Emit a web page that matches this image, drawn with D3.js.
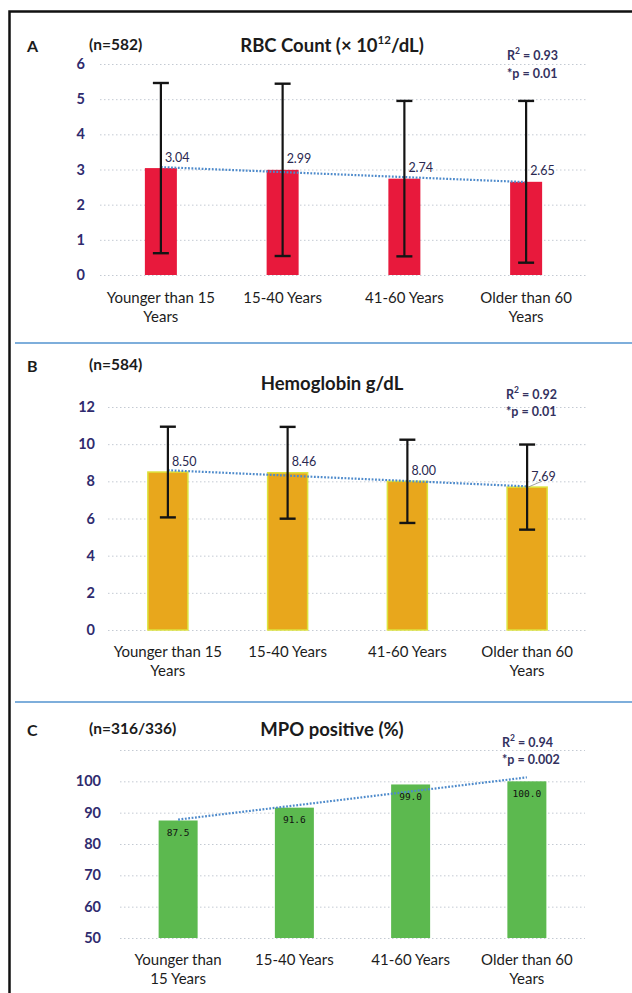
<!DOCTYPE html>
<html><head><meta charset="utf-8">
<script src="https://cdn.jsdelivr.net/npm/d3@7"></script>
<style>
html,body{margin:0;padding:0;background:#fff;}
svg{display:block;font-family:Lato,"Open Sans",sans-serif;}
</style></head><body>
<svg id="chart" width="632" height="993"></svg>
<script>
// Age groups shared by all three panels
const ageGroups = ["<15", "15-40", "41-60", ">60"];
const ageLabelsAB = [["Younger than 15", "Years"], ["15-40 Years"], ["41-60 Years"], ["Older than 60", "Years"]];
const ageLabelsC = [["Younger than", "15 Years"], ["15-40 Years"], ["41-60 Years"], ["Older than 60", "Years"]];

// Panel A: red blood cell count, mean ± SD
const rbcMean = [3.04, 2.99, 2.74, 2.65];
const rbcSD = [2.42, 2.45, 2.21, 2.30];
const rbcTicks = [0, 1, 2, 3, 4, 5, 6];

// Panel B: hemoglobin, mean ± SD
const hbMean = [8.50, 8.46, 8.00, 7.69];
const hbSD = [2.44, 2.47, 2.24, 2.29];
const hbTicks = [0, 2, 4, 6, 8, 10, 12];

// Panel C: MPO positive share
const mpoPct = [87.5, 91.6, 99.0, 100.0];
const mpoTicks = [50, 60, 70, 80, 90, 100];
const mpoGrid = [50, 60, 70, 80, 90, 100, 110];

const panelLetters = ["A", "B", "C"];
const sampleSizes = ["(n=582)", "(n=584)", "(n=316/336)"];
const rSquared = ["0.93", "0.92", "0.94"];
const pValues = ["*p = 0.01", "*p = 0.01", "*p = 0.002"];

const svg = d3.select("#chart");
const FONT = "Lato, 'Open Sans', sans-serif";

const panels = [
  {
    values: rbcMean, sd: rbcSD, ticks: rbcTicks, grid: rbcTicks, domain: [0, 6],
    xRange: [100, 587], yRange: [275, 64], barW: 32,
    fill: "#e8193c", stroke: null, cats: ageLabelsAB, catY: 297,
    headY: 45, titleY: 45, r2x: 507, r2y: 55, py: 73, tickPad: 15,
    labelMode: "above", fmt: d3.format(".2f")
  },
  {
    values: hbMean, sd: hbSD, ticks: hbTicks, grid: hbTicks, domain: [0, 12],
    xRange: [108, 587], yRange: [630, 407], barW: 40,
    fill: "#e8a71c", stroke: "#dde23c", cats: ageLabelsAB, catY: 651,
    headY: 365, titleY: 383, r2x: 506, r2y: 394, py: 411, tickPad: 13,
    labelMode: "above", fmt: d3.format(".2f")
  },
  {
    values: mpoPct, sd: null, ticks: mpoTicks, grid: mpoGrid, domain: [50, 110],
    xRange: [120, 585], yRange: [938, 750], barW: 39,
    fill: "#5cb94f", stroke: null, cats: ageLabelsC, catY: 959,
    headY: 729, titleY: 729, r2x: 502, r2y: 742, py: 759, tickPad: 19,
    labelMode: "inside", fmt: d3.format(".1f")
  }
];

function drawTitle(g, i, p) {
  const t = g.append("text")
    .attr("x", 332).attr("y", p.titleY)
    .attr("text-anchor", "middle").attr("dominant-baseline", "central")
    .attr("font-size", 18.5).attr("font-weight", 700).attr("fill", "#1b1b1b");
  if (i === 0) {
    t.append("tspan").text("RBC Count (\u00d7 10");
    t.append("tspan").attr("font-size", 11.5).attr("dy", -6).text("12");
    t.append("tspan").attr("dy", 6).text("/dL)");
  } else if (i === 1) {
    t.text("Hemoglobin g/dL");
  } else {
    t.text("MPO positive (%)");
  }
}

panels.forEach((p, i) => {
  const g = svg.append("g");
  const x = d3.scaleBand().domain(ageGroups).range(p.xRange);
  const y = d3.scaleLinear().domain(p.domain).range(p.yRange);
  const cx = k => x(ageGroups[k]) + x.bandwidth() / 2;
  const width = p.xRange[1] - p.xRange[0];

  // dotted horizontal gridlines
  g.append("g")
    .attr("transform", `translate(${p.xRange[0]},0)`)
    .call(d3.axisLeft(y).tickValues(p.grid).tickSize(-width).tickFormat(""))
    .call(a => a.select(".domain").remove())
    .selectAll("line")
    .attr("stroke", "#c4cad3").attr("stroke-width", 1).attr("stroke-dasharray", "1.5,2.5");

  // value axis labels
  const ax = g.append("g")
    .attr("transform", `translate(${p.xRange[0]},0)`)
    .call(d3.axisLeft(y).tickValues(p.ticks).tickSize(0).tickPadding(p.tickPad).tickFormat(d3.format("d")));
  ax.select(".domain").remove();
  ax.attr("font-family", FONT).attr("font-size", 14.5).attr("font-weight", 700);
  ax.selectAll("text").attr("fill", "#2f2b6e");

  // bars
  g.selectAll("rect.bar").data(p.values).join("rect")
    .attr("class", "bar")
    .attr("x", (d, k) => cx(k) - p.barW / 2)
    .attr("y", d => y(d))
    .attr("width", p.barW)
    .attr("height", d => y(p.domain[0]) - y(d))
    .attr("fill", p.fill)
    .attr("stroke", p.stroke || "none")
    .attr("stroke-width", p.stroke ? 1.5 : 0);

  // linear trend across age groups (least squares on group index)
  const n = p.values.length;
  const mx = d3.mean(d3.range(n)), my = d3.mean(p.values);
  const slope = d3.sum(p.values, (v, k) => (k - mx) * (v - my)) / d3.sum(d3.range(n), k => (k - mx) ** 2);
  const fit = k => my + slope * (k - mx);
  g.append("line")
    .attr("x1", cx(0)).attr("y1", y(fit(0)))
    .attr("x2", cx(n - 1)).attr("y2", y(fit(n - 1)))
    .attr("stroke", "#4d8acb").attr("stroke-width", 2.2)
    .attr("stroke-dasharray", "1.8,1.6");

  // error bars (mean ± SD)
  if (p.sd) {
    const eb = g.selectAll("g.err").data(p.values).join("g").attr("class", "err");
    eb.append("line")
      .attr("x1", (d, k) => cx(k)).attr("x2", (d, k) => cx(k))
      .attr("y1", (d, k) => y(d - p.sd[k])).attr("y2", (d, k) => y(d + p.sd[k]))
      .attr("stroke", "#141414").attr("stroke-width", 2.2);
    [-1, 1].forEach(s => {
      eb.append("line")
        .attr("x1", (d, k) => cx(k) - 8).attr("x2", (d, k) => cx(k) + 8)
        .attr("y1", (d, k) => y(d + s * p.sd[k])).attr("y2", (d, k) => y(d + s * p.sd[k]))
        .attr("stroke", "#141414").attr("stroke-width", 2.4);
    });
  }

  // value labels
  if (p.labelMode === "above") {
    g.selectAll("text.val").data(p.values).join("text")
      .attr("class", "val")
      .attr("x", (d, k) => cx(k) + 4)
      .attr("y", d => y(d) - 11)
      .attr("dominant-baseline", "central")
      .attr("font-size", 12.5).attr("fill", "#2a2850")
      .text(d => p.fmt(d));
    if (i === 1) {
      // short leader from the last point to its label
      g.append("line")
        .attr("x1", cx(n - 1) + 1).attr("y1", y(p.values[n - 1]))
        .attr("x2", cx(n - 1) + 15).attr("y2", y(p.values[n - 1]) - 6)
        .attr("stroke", "#8a8a8a").attr("stroke-width", 0.8);
    }
  } else {
    g.selectAll("text.val").data(p.values).join("text")
      .attr("class", "val")
      .attr("x", (d, k) => cx(k))
      .attr("y", d => y(d) + 12)
      .attr("text-anchor", "middle").attr("dominant-baseline", "central")
      .attr("font-family", "'DejaVu Sans Mono', 'Liberation Mono', monospace")
      .attr("font-size", 9.5).attr("fill", "#111")
      .text(d => p.fmt(d));
  }

  // category labels
  p.cats.forEach((lines, k) => {
    const t = g.append("text")
      .attr("text-anchor", "middle")
      .attr("font-size", 15).attr("fill", "#1c1c1c");
    lines.forEach((ln, j) => {
      t.append("tspan").attr("x", cx(k)).attr("y", p.catY + j * 19)
        .attr("dominant-baseline", "central").text(ln);
    });
  });

  // panel letter, sample size and title
  g.append("text").attr("x", 27).attr("y", p.headY)
    .attr("dominant-baseline", "central")
    .attr("font-size", 16).attr("font-weight", 700).attr("fill", "#1b1b1b")
    .text(panelLetters[i]);
  g.append("text").attr("x", 89).attr("y", p.headY - 1)
    .attr("dominant-baseline", "central")
    .attr("font-size", 15.5).attr("font-weight", 700).attr("fill", "#1b1b1b")
    .text(sampleSizes[i]);
  drawTitle(g, i, p);

  // trend statistics
  const r2 = g.append("text").attr("x", p.r2x).attr("y", p.r2y)
    .attr("dominant-baseline", "central")
    .attr("font-size", 12.5).attr("font-weight", 700).attr("fill", "#34325f");
  r2.append("tspan").text("R");
  r2.append("tspan").attr("font-size", 8.5).attr("dy", -4).text("2");
  r2.append("tspan").attr("dy", 4).text(" = " + rSquared[i]);
  g.append("text").attr("x", p.r2x).attr("y", p.py)
    .attr("dominant-baseline", "central")
    .attr("font-size", 12.5).attr("font-weight", 700).attr("fill", "#34325f")
    .text(pValues[i]);
});

// panel separators
[343, 702].forEach(yy => {
  svg.append("line").attr("x1", 15).attr("x2", 632).attr("y1", yy).attr("y2", yy)
    .attr("stroke", "#7eaedb").attr("stroke-width", 2);
});

// outer frame (continues past the right and bottom edges)
svg.append("rect").attr("x", 9.5).attr("y", 11.5).attr("width", 660).attr("height", 1020)
  .attr("fill", "none").attr("stroke", "#111").attr("stroke-width", 2.5);
</script>
</body></html>
